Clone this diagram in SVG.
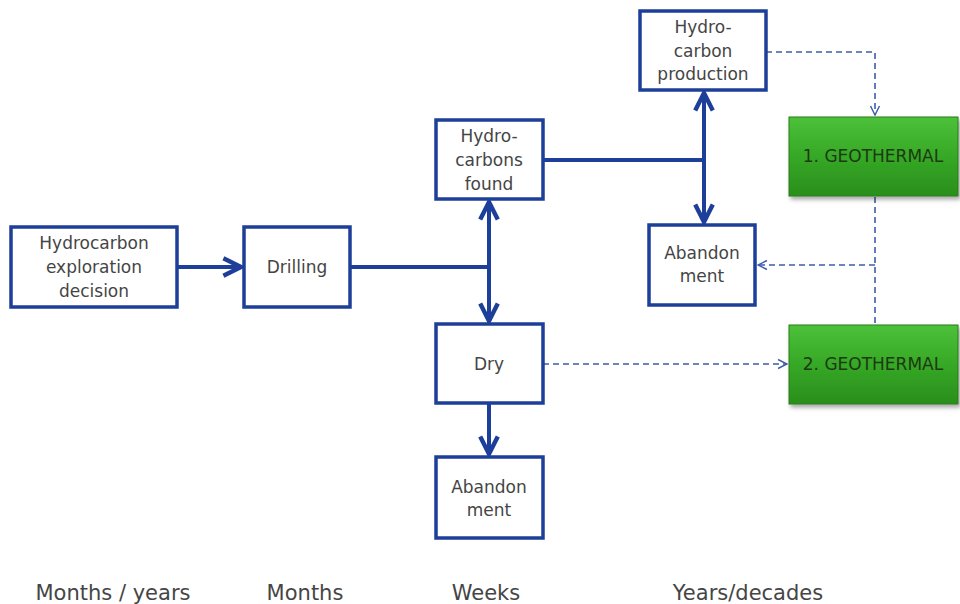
<svg xmlns="http://www.w3.org/2000/svg" width="960" height="604" viewBox="0 0 960 604">
<style>
.box{fill:#fff;stroke:#1e3f99;stroke-width:3.5}
.t{font-family:"DejaVu Sans","Liberation Sans",sans-serif;font-size:17px;fill:#454545;text-anchor:middle}
.g{font-family:"DejaVu Sans","Liberation Sans",sans-serif;font-size:17px;fill:#1d3a12;text-anchor:middle}
.b{font-family:"DejaVu Sans","Liberation Sans",sans-serif;font-size:21px;fill:#454545;text-anchor:middle}
.s{fill:none;stroke:#1e3f99;stroke-width:4}
.d{fill:none;stroke:#3d5cab;stroke-width:1.6;stroke-dasharray:6 4}
.geo{fill:url(#gr);stroke:#2a7a1a;stroke-width:1}
</style>
<defs>
<marker id="a" viewBox="0 0 10 10" refX="9" refY="5" markerWidth="5.5" markerHeight="5.5" markerUnits="strokeWidth" orient="auto-start-reverse">
<path d="M1,1 L9,5 L1,9" fill="none" stroke="#1e3f99" stroke-width="2"/>
</marker>
<marker id="ad" viewBox="0 0 10 10" refX="9" refY="5" markerWidth="7" markerHeight="7" markerUnits="strokeWidth" orient="auto">
<path d="M1,1 L9,5 L1,9" fill="none" stroke="#3d5cab" stroke-width="1.3"/>
</marker>
<linearGradient id="gr" x1="0" y1="0" x2="0" y2="1">
<stop offset="0" stop-color="#4cc13a"/>
<stop offset="0.5" stop-color="#36a826"/>
<stop offset="1" stop-color="#2a8f1c"/>
</linearGradient>
<filter id="sh" x="-10%" y="-10%" width="130%" height="130%">
<feDropShadow dx="2" dy="3" stdDeviation="2" flood-color="#000" flood-opacity="0.35"/>
</filter>
</defs>
<g id="connectors">
<line class="s" x1="177" y1="267" x2="241" y2="267" marker-end="url(#a)"/>
<line class="s" x1="350" y1="267" x2="489" y2="267"/>
<line class="s" x1="489" y1="202" x2="489" y2="321" marker-start="url(#a)" marker-end="url(#a)"/>
<line class="s" x1="543" y1="160" x2="704" y2="160"/>
<line class="s" x1="704" y1="93" x2="704" y2="222" marker-start="url(#a)" marker-end="url(#a)"/>
<line class="s" x1="489" y1="403" x2="489" y2="454" marker-end="url(#a)"/>
<polyline class="d" points="766,52 875,52 875,115" marker-end="url(#ad)"/>
<line class="d" x1="875" y1="197" x2="875" y2="325"/>
<line class="d" x1="875" y1="265" x2="758" y2="265" marker-end="url(#ad)"/>
<line class="d" x1="543" y1="364" x2="787" y2="364" marker-end="url(#ad)"/>
</g>
<g id="n1"><rect class="box" x="11" y="227" width="166" height="80"/>
<text class="t" x="94" y="249">Hydrocarbon</text><text class="t" x="94" y="273">exploration</text><text class="t" x="94" y="297">decision</text></g>
<g id="n2"><rect class="box" x="244" y="227" width="106" height="80"/>
<text class="t" x="297" y="273">Drilling</text></g>
<g id="n3"><rect class="box" x="436" y="120" width="107" height="79"/>
<text class="t" x="489" y="142">Hydro-</text><text class="t" x="489" y="166">carbons</text><text class="t" x="489" y="190">found</text></g>
<g id="n4"><rect class="box" x="436" y="324" width="107" height="79"/>
<text class="t" x="489" y="370">Dry</text></g>
<g id="n5"><rect class="box" x="436" y="457" width="107" height="81"/>
<text class="t" x="489" y="493">Abandon</text><text class="t" x="489" y="516">ment</text></g>
<g id="n6"><rect class="box" x="640" y="11" width="126" height="79"/>
<text class="t" x="703" y="33">Hydro-</text><text class="t" x="703" y="57">carbon</text><text class="t" x="703" y="80">production</text></g>
<g id="n7"><rect class="box" x="649" y="225" width="106" height="80"/>
<text class="t" x="702" y="259">Abandon</text><text class="t" x="702" y="282">ment</text></g>
<g id="n8"><rect class="geo" x="789" y="117" width="169" height="79" filter="url(#sh)"/>
<text class="g" x="873" y="162">1. GEOTHERMAL</text></g>
<g id="n9"><rect class="geo" x="789" y="325" width="169" height="79" filter="url(#sh)"/>
<text class="g" x="873" y="370">2. GEOTHERMAL</text></g>
<g id="labels">
<text class="b" x="113" y="600">Months / years</text>
<text class="b" x="305" y="600">Months</text>
<text class="b" x="486" y="600">Weeks</text>
<text class="b" x="748" y="600">Years/decades</text>
</g>
</svg>
